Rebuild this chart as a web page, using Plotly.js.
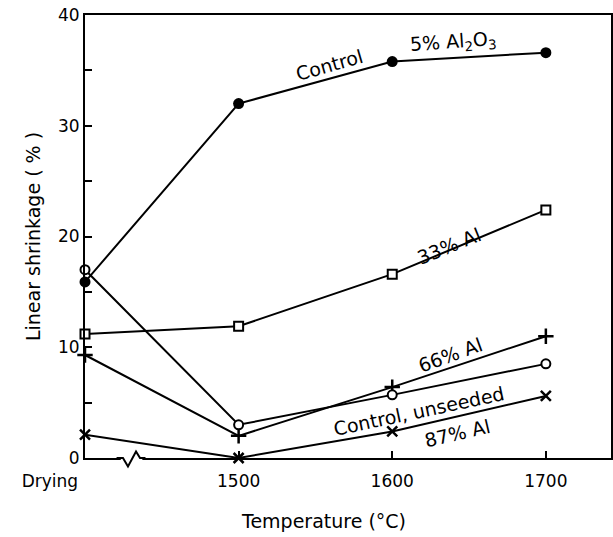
<!DOCTYPE html>
<html>
<head>
<meta charset="utf-8">
<script src="https://cdn.plot.ly/plotly-3.0.1.min.js"></script>
<style>html,body{margin:0;padding:0;background:#fff;}#chart{width:613px;height:537px;}</style>
</head>
<body>
<div id="chart"></div>
<script>
// Categories along the x axis (drying stage, then firing temperatures in °C)
const categories = ["Drying", "1500", "1600", "1700"];
const xTickText = ["Drying\u00a0\u00a0\u00a0\u00a0\u00a0\u00a0\u00a0\u00a0\u00a0\u00a0\u00a0\u00a0\u00a0", "1500", "1600", "1700"];

// Linear shrinkage (%)
const control5Al2O3   = [15.9, 32.0, 35.8, 36.6];
const controlUnseeded = [17.0, 3.0, 5.7, 8.5];
const al33            = [11.2, 11.9, 16.6, 22.4];
const al66            = [9.3, 2.0, 6.4, 11.0];
const al87            = [2.1, 0.0, 2.4, 5.6];

const yTickVals = [0, 5, 10, 15, 20, 25, 30, 35, 40];
const yTickText = ["0", "", "10", "", "20", "", "30", "", "40"];

const FONT = "DejaVu Sans, Arial, sans-serif";
const lineStyle = {color: "#000", width: 2};

function series(name, y, marker) {
  return {
    type: "scatter", mode: "lines+markers", name: name,
    x: categories, y: y, line: lineStyle, marker: marker, cliponaxis: false
  };
}

const traces = [
  series("Control 5% Al2O3", control5Al2O3, {symbol: "circle", size: 11, color: "#000"}),
  series("33% Al", al33, {symbol: "square", size: 9, color: "#fff", line: {color: "#000", width: 2}}),
  series("66% Al", al66, {symbol: "cross-thin", size: 11, color: "#000", line: {color: "#000", width: 2.5}}),
  series("Control, unseeded", controlUnseeded, {symbol: "circle", size: 9, color: "#fff", line: {color: "#000", width: 2}}),
  series("87% Al", al87, {symbol: "x-thin", size: 10, color: "#000", line: {color: "#000", width: 2.5}})
];

function lab(text, x, y, angle) {
  return {text: text, x: x, y: y, xref: "x", yref: "y", showarrow: false,
          textangle: angle, font: {family: FONT, size: 19, color: "#000"}};
}

const layout = {
  width: 613, height: 537,
  margin: {l: 85, r: 2, t: 15, b: 79},
  paper_bgcolor: "#fff", plot_bgcolor: "#fff",
  showlegend: false,
  font: {family: FONT, size: 17, color: "#000"},
  xaxis: {
    type: "category", range: [0, 3.424],
    tickvals: categories, ticktext: xTickText,
    ticks: "inside", ticklen: 7, tickwidth: 2, tickcolor: "#000",
    showline: true, linecolor: "#000", linewidth: 2, mirror: true,
    showgrid: false, zeroline: false,
    tickfont: {family: FONT, size: 17, color: "#000"},
    ticklabelstandoff: 7
  },
  yaxis: {
    range: [0, 40],
    tickvals: yTickVals, ticktext: yTickText,
    ticks: "inside", ticklen: 7, tickwidth: 2, tickcolor: "#000",
    showline: true, linecolor: "#000", linewidth: 2, mirror: true,
    showgrid: false, zeroline: false,
    tickfont: {family: FONT, size: 17, color: "#000"},
    title: {text: "Linear shrinkage ( % )", font: {family: FONT, size: 19, color: "#000"}, standoff: 12}
  },
  annotations: [
    lab("Control", 1.589, 35.5, -16),
    lab("5% Al<sub>2</sub>O<sub>3</sub>", 2.396, 37.5, -4),
    lab("33% Al", 2.37, 19.1, -22),
    lab("66% Al", 2.376, 9.3, -20),
    lab("Control, unseeded", 2.174, 4.2, -12),
    lab("87% Al", 2.428, 2.3, -13),
    {text: "Temperature (°C)", xref: "paper", yref: "paper", x: 0.4525, y: -0.143,
     xanchor: "center", yanchor: "middle", showarrow: false,
     font: {family: FONT, size: 19, color: "#000"}}
  ],
  shapes: [
    {type: "line", xref: "paper", yref: "paper", x0: 0.068, x1: 0.109, y0: 0, y1: 0,
     line: {color: "#fff", width: 4}, layer: "above"},
    {type: "path", xref: "paper", yref: "paper", layer: "above",
     path: "M 0.06,0 L 0.0722,0 L 0.0817,-0.019 L 0.097,0.0147 L 0.1046,0 L 0.115,0",
     line: {color: "#000", width: 2}}
  ]
};

Plotly.newPlot("chart", traces, layout, {staticPlot: true, displayModeBar: false});
</script>
</body>
</html>
